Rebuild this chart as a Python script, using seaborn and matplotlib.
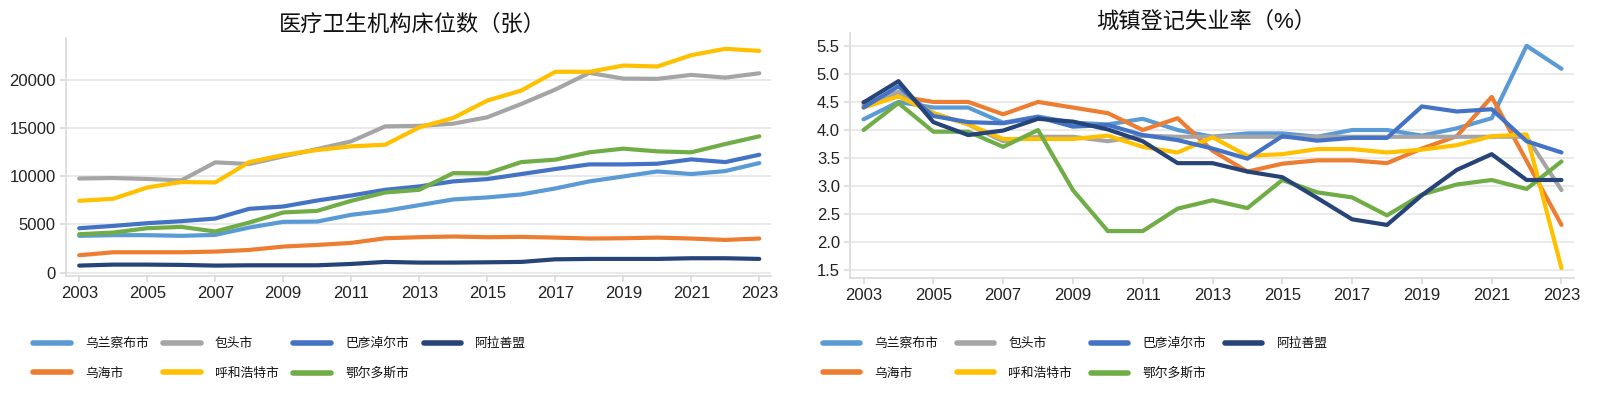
import numpy as np
import pandas as pd
import matplotlib
matplotlib.use('Agg')
import matplotlib.pyplot as plt
import seaborn as sns

# =====================================================
# DATA
# =====================================================

years = list(range(2003, 2024))
cities = ['乌兰察布市', '乌海市', '包头市', '呼和浩特市', '巴彦淖尔市', '鄂尔多斯市', '阿拉善盟']

# 医疗卫生机构床位数（张）
beds_wulanchabu = [3810, 3880, 3880, 3810, 3910, 4670, 5260, 5290, 5990, 6400, 6990,
                   7580, 7790, 8100, 8720, 9450, 9960, 10480, 10210, 10520, 11350]
beds_wuhai = [1800, 2110, 2110, 2110, 2180, 2350, 2700, 2870, 3080, 3560, 3670,
              3740, 3670, 3700, 3630, 3530, 3560, 3630, 3530, 3390, 3530]
beds_baotou = [9750, 9800, 9700, 9550, 11420, 11250, 12040, 12800, 13600, 15150, 15200,
               15430, 16090, 17470, 18960, 20690, 20100, 20070, 20480, 20200, 20650]
beds_huhehaote = [7440, 7650, 8820, 9380, 9340, 11450, 12180, 12700, 13080, 13250, 15050,
                  16020, 17820, 18860, 20800, 20800, 21450, 21350, 22520, 23180, 22970]
beds_bayannaoer = [4600, 4840, 5120, 5330, 5600, 6610, 6850, 7470, 7990, 8580, 8930,
                   9450, 9690, 10210, 10730, 11210, 11210, 11280, 11730, 11450, 12210]
beds_eerduosi = [3980, 4150, 4600, 4740, 4260, 5190, 6230, 6400, 7440, 8300, 8580,
                 10310, 10280, 11450, 11700, 12460, 12840, 12560, 12460, 13320, 14120]
beds_alashan = [730, 830, 830, 800, 730, 760, 760, 760, 900, 1110, 1040,
                1040, 1070, 1110, 1380, 1420, 1420, 1420, 1490, 1490, 1420]

# 城镇登记失业率（%）
unemp_wulanchabu = [4.19, 4.50, 4.40, 4.40, 4.13, 4.24, 4.13, 4.10, 4.20, 4.00, 3.88,
                    3.94, 3.94, 3.88, 4.00, 4.00, 3.90, 4.03, 4.21, 5.50, 5.09]
unemp_wuhai = [4.50, 4.60, 4.50, 4.50, 4.28, 4.50, 4.40, 4.30, 4.00, 4.21, 3.63,
               3.26, 3.40, 3.46, 3.46, 3.41, 3.67, 3.89, 4.59, 3.45, 2.31]
unemp_baotou = [4.45, 4.68, 4.30, 4.10, 3.80, 3.88, 3.88, 3.80, 3.90, 3.88, 3.88,
                3.88, 3.88, 3.88, 3.88, 3.88, 3.88, 3.88, 3.88, 3.88, 2.93]
unemp_huhehaote = [4.40, 4.60, 4.30, 4.10, 3.84, 3.84, 3.84, 3.90, 3.70, 3.60, 3.87,
                   3.54, 3.57, 3.66, 3.66, 3.60, 3.65, 3.73, 3.89, 3.92, 1.54]
unemp_bayannaoer = [4.40, 4.78, 4.25, 4.14, 4.12, 4.23, 4.06, 4.09, 3.91, 3.82, 3.67,
                    3.49, 3.89, 3.81, 3.86, 3.86, 4.42, 4.33, 4.37, 3.80, 3.60]
unemp_eerduosi = [4.00, 4.48, 3.97, 3.97, 3.70, 4.00, 2.93, 2.20, 2.20, 2.60, 2.75,
                  2.61, 3.11, 2.89, 2.80, 2.48, 2.85, 3.03, 3.11, 2.95, 3.44]
unemp_alashan = [4.49, 4.87, 4.14, 3.91, 3.99, 4.20, 4.15, 4.01, 3.80, 3.41, 3.41,
                 3.26, 3.16, 2.79, 2.41, 2.31, 2.84, 3.29, 3.57, 3.11, 3.11]

colors = ['#5B9BD5', '#ED7D31', '#A5A5A5', '#FFC000', '#4472C4', '#70AD47', '#264478']

# =====================================================
# STYLE
# =====================================================

sns.set_theme(style='white')
plt.rcParams['font.family'] = ['Liberation Sans', 'Noto Sans CJK SC', 'DejaVu Sans']
plt.rcParams['axes.unicode_minus'] = False

SPINE = '#d9d9d9'
GRID = '#e6e6e6'


def long_form(series_list):
    rows = []
    for city, vals in zip(cities, series_list):
        for yr, v in zip(years, vals):
            rows.append((city, yr, v))
    return pd.DataFrame(rows, columns=['city', 'year', 'value'])


def style_axis(ax):
    for side in ['top', 'right']:
        ax.spines[side].set_visible(False)
    for side in ['left', 'bottom']:
        ax.spines[side].set_color(SPINE)
        ax.spines[side].set_linewidth(1.2)
    ax.yaxis.grid(True, color=GRID, linewidth=1.2)
    ax.set_axisbelow(True)
    ax.tick_params(axis='both', which='major', labelsize=12, length=4,
                   color=SPINE, width=1.2, pad=3, colors='#222222',
                   left=True, bottom=True)
    ax.set_xticks(years[::2])
    ax.set_xlabel('')
    ax.set_ylabel('')


palette = dict(zip(cities, colors))

fig = plt.figure(figsize=(16, 3.96), dpi=100)
ax1 = fig.add_axes([0.041, 0.303, 0.441, 0.601])
ax2 = fig.add_axes([0.531, 0.298, 0.453, 0.619])

# Left: beds
df_beds = long_form([beds_wulanchabu, beds_wuhai, beds_baotou, beds_huhehaote,
                     beds_bayannaoer, beds_eerduosi, beds_alashan])
sns.lineplot(data=df_beds, x='year', y='value', hue='city', hue_order=cities,
             palette=palette, linewidth=3, ax=ax1, legend=False)
ax1.set_xlim(2002.6, 2023.35)
ax1.set_ylim(-350, 24300)
ax1.set_yticks([0, 5000, 10000, 15000, 20000])
style_axis(ax1)

# Right: unemployment
df_unemp = long_form([unemp_wulanchabu, unemp_wuhai, unemp_baotou, unemp_huhehaote,
                      unemp_bayannaoer, unemp_eerduosi, unemp_alashan])
sns.lineplot(data=df_unemp, x='year', y='value', hue='city', hue_order=cities,
             palette=palette, linewidth=3, ax=ax2, legend=False)
ax2.set_xlim(2002.6, 2023.37)
ax2.set_ylim(1.365, 5.73)
ax2.set_yticks(np.arange(1.5, 5.51, 0.5))
ax2.set_yticklabels([f'{v:.1f}' for v in np.arange(1.5, 5.51, 0.5)])
style_axis(ax2)

# Titles
fig.text(0.258, 0.937, '医疗卫生机构床位数（张）', ha='center', va='center',
         fontsize=16, color='#111111')
fig.text(0.754, 0.944, '城镇登记失业率（%）', ha='center', va='center',
         fontsize=16, color='#111111')

# Legends
handles = [plt.Line2D([], [], color=c, linewidth=4) for c in colors]
for ax, x0, spacing in [(ax1, 0.0135, 1.15), (ax2, 0.507, 1.45)]:
    ax.legend(handles, cities, loc='upper left', bbox_to_anchor=(x0, 0.176),
              bbox_transform=fig.transFigure, ncol=4, frameon=False,
              fontsize=9.2, handlelength=2.95, handletextpad=1.1,
              columnspacing=spacing, labelspacing=1.4,
              labelcolor='#111111')

fig.savefig('out.png', dpi=100)
